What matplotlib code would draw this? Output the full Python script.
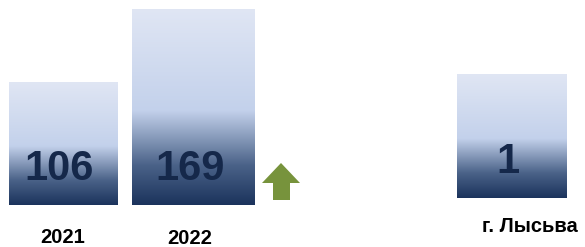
import numpy as np
import matplotlib
matplotlib.use('Agg')
import matplotlib.pyplot as plt
import matplotlib.patches as mpatches
from matplotlib.colors import LinearSegmentedColormap

# data
years = ['2021', '2022']
year_values = [106, 169]
city = ['г. Лысьва']
city_values = [1]

plt.rcParams['font.family'] = ['Liberation Sans', 'DejaVu Sans']

W, H = 585, 247
fig = plt.figure(figsize=(W / 100, H / 100), dpi=100)

grad = LinearSegmentedColormap.from_list(
    'bar_grad', [(0.0, '#1b335c'), (0.2, '#4a6288'), (0.48, '#c3d1eb'), (1.0, '#e0e6f4')])
value_color = '#15284a'


def px_axes(left, right, top, bottom):
    return fig.add_axes([left / W, 1 - bottom / H, (right - left) / W, (bottom - top) / H])


def gradient_bars(ax, bars):
    g = np.linspace(0, 1, 256).reshape(-1, 1)
    for b in bars:
        x0, y0 = b.get_x(), b.get_y()
        im = ax.imshow(g, cmap=grad, origin='lower', aspect='auto', interpolation='bicubic',
                       extent=[x0, x0 + b.get_width(), y0, y0 + b.get_height()], zorder=2)
        im.set_clip_path(b)


# left panel: 2021 / 2022
ax1 = px_axes(0, 310, 0, 205)
xpos = np.arange(len(years))
bars = ax1.bar(xpos, year_values, width=[0.83, 0.94], color='none', edgecolor='none')
ax1.set_xlim(-0.483, 1.893)
ax1.set_ylim(0, 169 * 205 / 196)
gradient_bars(ax1, bars)
for x, v in zip(xpos, year_values):
    ax1.text(x - 0.03, 31, str(v), ha='center', va='center', fontsize=30,
             fontweight='bold', color=value_color, zorder=3)
ax1.axis('off')

# year labels
fig.text(62.5 / W, 1 - 237.5 / H, years[0], ha='center', va='center', fontsize=14.5, fontweight='bold')
fig.text(190 / W, 1 - 238.5 / H, years[1], ha='center', va='center', fontsize=14.5, fontweight='bold')

# green arrow
arrow_px = [(281, 163), (300, 183), (290, 183), (290, 200), (273, 200), (273, 183), (262, 183)]
fig.patches.append(mpatches.Polygon([(x / W, 1 - y / H) for x, y in arrow_px], closed=True,
                                    transform=fig.transFigure, facecolor='#77933c', edgecolor='none'))

# right panel: г. Лысьва
ax2 = px_axes(440, 585, 74, 198)
bars2 = ax2.bar([0], city_values, width=110 / 145, color='none', edgecolor='none')
ax2.set_xlim(-(512 - 440) / 145, (585 - 512) / 145)
ax2.set_ylim(0, 1)
gradient_bars(ax2, bars2)
ax2.text(-0.03, 0.29, str(city_values[0]), ha='center', va='center', fontsize=30,
         fontweight='bold', color=value_color, zorder=3)
ax2.axis('off')
fig.text(530 / W, 1 - 226 / H, city[0], ha='center', va='center', fontsize=14.5, fontweight='bold')

fig.savefig('out.png', dpi=100)
